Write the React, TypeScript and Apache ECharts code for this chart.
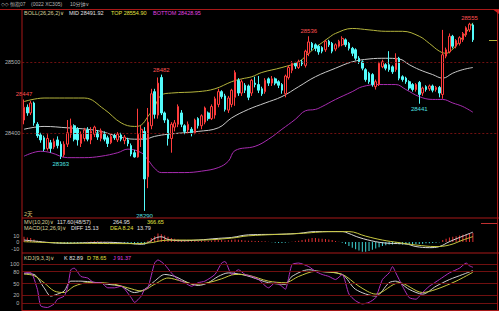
import React, { useEffect, useRef } from 'react';
import * as echarts from 'echarts';

// [open, close, low, high] per 10-minute bar
const CANDLES: number[][] = [
  [28418, 28436, 28412, 28447], [28436, 28428, 28424, 28440], [28428, 28442, 28425, 28445], [28442, 28414, 28410, 28444],
  [28412, 28396, 28393, 28415], [28397, 28390, 28386, 28400], [28393, 28377, 28374, 28396], [28378, 28392, 28375, 28398],
  [28386, 28378, 28372, 28390], [28380, 28388, 28377, 28392], [28390, 28382, 28378, 28395], [28384, 28367, 28363, 28388],
  [28369, 28384, 28366, 28388], [28384, 28400, 28380, 28418], [28398, 28410, 28393, 28420], [28410, 28391, 28388, 28412],
  [28405, 28390, 28382, 28408], [28385, 28398, 28380, 28402], [28392, 28404, 28388, 28407], [28404, 28391, 28388, 28408],
  [28390, 28402, 28384, 28408], [28398, 28408, 28394, 28410], [28400, 28394, 28390, 28404], [28392, 28403, 28388, 28406],
  [28398, 28391, 28388, 28402], [28393, 28385, 28380, 28396], [28386, 28395, 28384, 28398], [28396, 28393, 28390, 28399],
  [28390, 28398, 28387, 28401], [28397, 28391, 28388, 28400], [28389, 28394, 28384, 28397], [28390, 28385, 28381, 28393],
  [28382, 28370, 28367, 28385], [28372, 28366, 28365, 28376], [28366, 28398, 28365, 28434], [28392, 28405, 28380, 28410],
  [28402, 28335, 28290, 28408], [28338, 28415, 28322, 28435], [28410, 28455, 28405, 28462], [28458, 28426, 28420, 28462],
  [28425, 28470, 28420, 28478], [28478, 28428, 28425, 28482], [28428, 28418, 28414, 28430], [28418, 28392, 28382, 28420],
  [28392, 28412, 28372, 28415], [28408, 28414, 28402, 28418], [28412, 28437, 28408, 28440], [28428, 28412, 28408, 28432],
  [28410, 28402, 28398, 28412], [28404, 28412, 28400, 28416], [28405, 28400, 28395, 28408], [28400, 28418, 28398, 28420],
  [28420, 28410, 28406, 28422], [28410, 28424, 28405, 28426], [28415, 28435, 28412, 28437], [28428, 28420, 28417, 28430],
  [28420, 28437, 28418, 28440], [28425, 28448, 28420, 28451], [28440, 28458, 28436, 28462], [28458, 28451, 28448, 28460],
  [28452, 28433, 28430, 28455], [28432, 28449, 28428, 28452], [28440, 28460, 28436, 28462], [28450, 28485, 28438, 28488],
  [28474, 28456, 28452, 28477], [28456, 28472, 28452, 28475], [28467, 28460, 28456, 28470], [28466, 28450, 28446, 28468],
  [28456, 28474, 28452, 28476], [28470, 28468, 28464, 28479], [28468, 28460, 28456, 28480], [28462, 28455, 28452, 28465],
  [28458, 28474, 28455, 28477], [28476, 28470, 28466, 28478], [28470, 28476, 28466, 28480], [28476, 28470, 28467, 28478],
  [28472, 28467, 28463, 28474], [28468, 28460, 28455, 28470], [28455, 28480, 28450, 28482], [28478, 28492, 28475, 28495],
  [28488, 28498, 28484, 28501], [28498, 28494, 28490, 28500], [28492, 28500, 28490, 28503], [28500, 28497, 28494, 28503],
  [28495, 28515, 28492, 28517], [28512, 28528, 28508, 28536], [28526, 28520, 28516, 28528], [28524, 28519, 28515, 28526],
  [28522, 28514, 28510, 28524], [28520, 28515, 28512, 28522], [28517, 28529, 28514, 28531], [28529, 28524, 28521, 28531],
  [28526, 28515, 28512, 28528], [28518, 28524, 28515, 28526], [28522, 28529, 28520, 28531], [28524, 28533, 28522, 28536],
  [28531, 28524, 28521, 28533], [28526, 28519, 28516, 28528], [28519, 28512, 28508, 28521], [28517, 28505, 28502, 28519],
  [28505, 28500, 28497, 28508], [28500, 28491, 28488, 28502], [28489, 28475, 28472, 28491], [28484, 28472, 28469, 28486],
  [28482, 28468, 28465, 28484], [28465, 28472, 28461, 28475], [28468, 28498, 28466, 28500], [28493, 28500, 28491, 28503],
  [28496, 28491, 28488, 28498], [28496, 28489, 28486, 28515], [28493, 28486, 28483, 28495], [28489, 28505, 28486, 28512],
  [28505, 28477, 28474, 28507], [28479, 28475, 28472, 28481], [28477, 28472, 28469, 28479], [28472, 28463, 28460, 28474],
  [28468, 28461, 28458, 28470], [28461, 28468, 28458, 28470], [28471, 28454, 28441, 28473], [28456, 28463, 28452, 28465],
  [28465, 28461, 28458, 28467], [28462, 28466, 28459, 28468], [28466, 28460, 28457, 28468], [28461, 28464, 28458, 28466],
  [28464, 28456, 28450, 28466], [28454, 28510, 28448, 28545], [28508, 28517, 28505, 28520], [28514, 28536, 28512, 28540],
  [28536, 28522, 28519, 28538], [28522, 28530, 28519, 28532], [28526, 28534, 28523, 28536], [28531, 28540, 28528, 28542],
  [28538, 28548, 28535, 28550], [28545, 28553, 28542, 28555], [28552, 28531, 28528, 28554],
];

// BOLL bands read at sampled bars: [bar index, price]
const BOLL_TOP: number[][] = [
  [0, 28444], [6, 28449], [18, 28449], [24, 28433], [29, 28414], [33, 28409], [35, 28411], [37, 28423], [39, 28437],
  [41, 28453], [44, 28456], [52, 28458], [57, 28462], [62, 28472], [65, 28476], [68, 28479], [71, 28485], [77, 28492],
  [82, 28500], [85, 28512], [87, 28520], [89, 28527], [91, 28534], [93, 28540], [98, 28547], [103, 28545], [108, 28543],
  [113, 28543], [118, 28536], [121, 28526], [124, 28515], [126, 28512], [128, 28518], [131, 28535], [134, 28555],
];
const BOLL_MID: number[][] = [
  [0, 28405], [6, 28409], [13, 28407], [19, 28405], [23, 28402], [28, 28395], [33, 28391], [36, 28391], [39, 28395],
  [43, 28398], [52, 28402], [58, 28407], [62, 28421], [67, 28433], [72, 28442], [77, 28451], [82, 28465], [87, 28479],
  [93, 28491], [98, 28500], [103, 28504], [108, 28505], [112, 28504], [115, 28496], [118, 28489], [122, 28482],
  [125, 28477], [128, 28484], [131, 28489], [134, 28492],
];
const BOLL_BOTTOM: number[][] = [
  [0, 28367], [5, 28374], [8, 28372], [13, 28365], [18, 28365], [23, 28367], [28, 28372], [31, 28377], [35, 28372],
  [37, 28362], [39, 28350], [41, 28344], [48, 28344], [53, 28346], [58, 28351], [61, 28360], [63, 28375], [69, 28381],
  [73, 28391], [77, 28405], [81, 28419], [84, 28431], [87, 28433], [89, 28437], [93, 28447], [98, 28458], [101, 28465],
  [106, 28468], [111, 28468], [114, 28461], [118, 28451], [122, 28447], [125, 28447], [128, 28442], [131, 28437],
  [134, 28429],
];

// labelled highs / lows
const EXTREMES = [
  { bar: 0, price: 28447, kind: 'high' }, { bar: 11, price: 28363, kind: 'low' }, { bar: 36, price: 28290, kind: 'low' },
  { bar: 41, price: 28482, kind: 'high' }, { bar: 85, price: 28536, kind: 'high' }, { bar: 118, price: 28441, kind: 'low' },
  { bar: 133, price: 28555, kind: 'high' },
];

const MACD_HIST: number[] = [
  8, 7, 6, 4, 2, 1, 0.5,
  -1, -1.5, -2, -2, -2.5, -3, -3, -2.5, -2, -2, -1.5, -1,
  0.5, 0.8, 1, 1, 0.8, 0.5, 0.3, 0.2, -0.2, -0.3,
  -0.5, -1, -2, -3, -3.5, -2, -2, -4,
  2, 6, 9, 13, 12, 10, 8,
  6, 5, 4, 3, 2, 1.5, 1, 1.5, 1.5, 2, 2.5, 2, 2.5, 3, 3.5, 3, 2.5, 3, 3.5, 4, 3.5, 3, 2.5,
  2, 2, 1.5, 1.5, 1, 1, 0.5,
  -0.5, -1, -1.5, -1.5, -1, -0.5, 0.5, 1,
  2, 3, 4, 5, 6, 6, 5.5, 5, 4.5, 4, 3,
  1.5, 0.5, -1,
  -3, -6, -9, -11, -13, -15, -15, -14, -12, -10, -8,
  -6, -5, -4, -4, -3, -3.5, -4, -4, -3.5, -3, -3, -3, -2.5, -2, -2, -1.5, -1, -0.5,
  3, 5, 7, 8, 9, 10, 11, 12, 13, 13.79,
];
const MACD_DIF: number[][] = [
  [0, 3], [3, 1.5], [8, -1], [13, -2], [19, -1], [25, -0.5], [31, -2], [35, -3.5], [37, -1], [39, 5.6], [41, 8],
  [43, 4], [47, 2], [52, 3], [58, 5.6], [62, 7], [67, 11], [77, 12], [82, 13.3], [87, 16], [95, 16], [97, 13],
  [100, 7], [105, 0.5], [109, -2], [114, -3], [117, -7], [121, -8.7], [124, -7], [127, 0.5], [131, 9], [134, 15.13],
];
const MACD_DEA: number[][] = [
  [0, 0.5], [8, -1], [18, -2], [33, -2.5], [38, -1], [41, 2], [45, 3], [52, 3], [62, 6], [67, 9.5], [82, 13],
  [92, 16], [97, 16], [102, 9], [107, 3], [112, -1], [117, -4.6], [123, -7], [127, -4.6], [131, 3], [134, 8.24],
];

const KDJ_K: number[][] = [
  [0, 75], [3, 73], [6, 39], [8, 18], [10, 23], [12, 31], [14, 56], [17, 56], [21, 53], [25, 48], [29, 43], [33, 27],
  [36, 35], [39, 56], [42, 73], [45, 68], [49, 52], [52, 45], [55, 52], [58, 68], [61, 77], [65, 73], [68, 66],
  [73, 52], [78, 48], [80, 68], [85, 85], [88, 81], [95, 73], [99, 35], [105, 18], [109, 52], [111, 56], [115, 35],
  [119, 23], [123, 43], [127, 60], [131, 73], [134, 82.89],
];
const KDJ_D: number[][] = [
  [0, 74], [3, 70], [6, 52], [9, 31], [12, 27], [15, 43], [19, 52], [23, 52], [27, 48], [31, 39], [35, 31], [39, 48],
  [43, 64], [47, 56], [51, 48], [55, 52], [59, 62], [63, 73], [67, 71], [73, 56], [78, 52], [82, 68], [87, 81],
  [95, 73], [100, 43], [105, 23], [112, 52], [119, 27], [123, 35], [129, 56], [134, 78.65],
];
const KDJ_J: number[][] = [
  [0, 77], [2, 78], [4, 35], [5, -7], [7, -11], [9, -2], [10, 10], [12, 18], [13, 39], [14, 85], [15, 89], [17, 68],
  [19, 64], [21, 52], [23, 52], [25, 39], [27, 39], [29, 43], [32, 14], [33, 2], [35, 18], [36, 35], [37, 39],
  [39, 102], [40, 110], [42, 98], [44, 77], [46, 60], [48, 52], [50, 43], [52, 52], [54, 56], [57, 73], [59, 102],
  [60, 106], [62, 73], [64, 85], [66, 73], [68, 68], [70, 60], [73, 39], [75, 52], [77, 43], [78, 35], [80, 98],
  [82, 102], [85, 93], [87, 81], [89, 73], [91, 68], [93, 60], [95, 73], [97, 23], [99, 6], [101, -2], [103, 2],
  [105, 14], [107, 60], [109, 77], [110, 93], [111, 77], [113, 43], [115, 14], [117, 10], [119, 27], [121, 43],
  [124, 60], [127, 77], [130, 89], [132, 102], [133, 95], [134, 91.37],
];

const PRICE_TICKS = [28500, 28400];
const KDJ_TICKS = [100, 80, 50, 20, 0];
const PAD_BARS = 7;

const FONT = "'Liberation Sans','DejaVu Sans','Noto Sans CJK SC',sans-serif";
const RED = '#ff3c3c';
const CYAN = '#54fcfc';
const BORDER = '#a81818';
const GRIDLINE = '#701010';
const LEFT = 22.3;
const RIGHT = 1;

type T = { text: string; x: number; y: number; fill: string; size?: number };
const TEXTS: T[] = [
  { text: '◇◇ 恒指07', x: 1, y: 4, fill: '#b8b8b8', size: 5 },
  { text: '(0022 XC305)', x: 31, y: 4, fill: '#b8b8b8', size: 5 },
  { text: '10分钟∨', x: 70, y: 4, fill: '#b8b8b8', size: 5 },
  { text: 'BOLL(26,26,2)∨', x: 24, y: 13, fill: '#d8d09a' },
  { text: 'MID 28491.92', x: 69, y: 13, fill: '#e0e0e0' },
  { text: 'TOP 28554.90', x: 111, y: 13, fill: '#e0e040' },
  { text: 'BOTTOM 28428.95', x: 153, y: 13, fill: '#e040e0' },
  { text: '2天', x: 24, y: 214, fill: '#d8c070' },
  { text: 'MV(10,20)∨', x: 24, y: 222, fill: '#d8d09a' },
  { text: '117.60(48/57)', x: 57, y: 222, fill: '#e0e0e0' },
  { text: '264.95', x: 113, y: 222, fill: '#e0e0e0' },
  { text: '366.65', x: 147, y: 222, fill: '#e0e040' },
  { text: 'MACD(12,26,9)∨', x: 24, y: 227.5, fill: '#d8d09a' },
  { text: 'DIFF 15.13', x: 71, y: 227.5, fill: '#e0e0e0' },
  { text: 'DEA 8.24', x: 110, y: 227.5, fill: '#e0e040' },
  { text: '13.79', x: 137, y: 227.5, fill: '#e0e0e0' },
  { text: 'KDJ(9,3,3)∨', x: 24, y: 257.5, fill: '#d8d09a' },
  { text: 'K 82.89', x: 64, y: 257.5, fill: '#e0e0e0' },
  { text: 'D 78.65', x: 87, y: 257.5, fill: '#e0e040' },
  { text: 'J 91.37', x: 113, y: 257.5, fill: '#e040e0' },
];

function buildOption() {
  const n = CANDLES.length + PAD_BARS;
  const cats = Array.from({ length: n }, (_, i) => String(i + 1));
  const xAxis = [0, 1, 2].map((g) => ({
    type: 'category', gridIndex: g, data: cats, show: false, boundaryGap: true,
  }));
  const lineS = (name: string, data: number[][], color: string, xi: number, smooth = 0.4) => ({
    name, type: 'line', xAxisIndex: xi, yAxisIndex: xi, data, smooth, symbol: 'none', showSymbol: false,
    lineStyle: { color, width: 1 }, silent: true, z: 3,
  });
  const axisLbl = { color: '#b8b8b8', fontSize: 5.5, fontFamily: FONT };
  const graphics: any[] = [
    ...[[0, 9.5, 499, 9.5], [22, 9.5, 22, 311], [22, 218, 499, 218], [22, 253, 499, 253], [497.5, 9.5, 497.5, 311], [22, 310.5, 499, 310.5]].map(
      ([x1, y1, x2, y2]) => ({ type: 'line', shape: { x1, y1, x2, y2 }, style: { stroke: BORDER, lineWidth: 1 }, silent: true, z: 50 })
    ),
    { type: 'polygon', shape: { points: [[493, 9.5], [499, 9.5], [499, 14]] }, style: { fill: '#d02020' }, silent: true, z: 50 },
    { type: 'line', shape: { x1: 489, y1: 40.5, x2: 497, y2: 40.5 }, style: { stroke: '#b4b43c', lineWidth: 1 }, silent: true, z: 50 },
    { type: 'line', shape: { x1: 481, y1: 223.5, x2: 497, y2: 223.5 }, style: { stroke: '#c03030', lineWidth: 1 }, silent: true, z: 50 },
    ...TEXTS.map((t) => ({
      type: 'text', x: t.x, y: t.y, silent: true, z: 60,
      style: { text: t.text, fill: t.fill, fontSize: t.size ?? 5.5, fontFamily: FONT, verticalAlign: 'middle', align: 'left' },
    })),
  ];
  return {
    animation: false,
    backgroundColor: '#000',
    textStyle: { fontFamily: FONT },
    grid: [
      { left: LEFT, right: RIGHT, top: 10, height: 208 },
      { left: LEFT, right: RIGHT, top: 229, height: 26 },
      { left: LEFT, right: RIGHT, top: 256, height: 56 },
    ],
    xAxis,
    yAxis: [
      { type: 'value', gridIndex: 0, min: 28280, max: 28573, show: false, splitLine: { show: false } },
      {
        type: 'value', gridIndex: 1, min: -20, max: 20, interval: 10,
        axisLine: { show: false }, axisTick: { show: false }, splitLine: { show: false },
        axisLabel: { ...axisLbl, margin: 3, formatter: (v: number) => (Math.abs(v) >= 20 ? '' : String(v)) },
      },
      { type: 'value', gridIndex: 2, min: -20, max: 120, show: false, splitLine: { show: false } },
    ],
    series: [
      {
        type: 'candlestick', xAxisIndex: 0, yAxisIndex: 0, data: CANDLES, barWidth: '64%', z: 4,
        itemStyle: { color: '#000', color0: CYAN, borderColor: RED, borderColor0: CYAN, borderWidth: 1 },
        markLine: {
          silent: true, symbol: ['none', 'none'],
          lineStyle: { color: GRIDLINE, type: [2, 2], width: 1 },
          label: { position: 'start', distance: 2, formatter: '{c}', ...axisLbl },
          data: PRICE_TICKS.map((v) => ({ yAxis: v })),
        },
        markPoint: {
          silent: true, symbol: 'circle', symbolSize: 0.1,
          data: EXTREMES.map((e) => ({
            coord: [e.bar, e.price], value: e.price,
            label: {
              show: true, position: e.kind === 'high' ? 'top' : 'bottom', distance: 2,
              color: e.kind === 'high' ? '#ff5050' : '#4fe0e0', fontSize: 6, fontFamily: FONT,
              formatter: String(e.price),
            },
          })),
        },
      },
      lineS('TOP', BOLL_TOP, '#b4b43c', 0),
      lineS('MID', BOLL_MID, '#c8c8c8', 0),
      lineS('BOTTOM', BOLL_BOTTOM, '#a82cb0', 0),
      {
        type: 'bar', xAxisIndex: 1, yAxisIndex: 1, barWidth: 1, silent: true,
        data: MACD_HIST.map((v) => ({ value: v, itemStyle: { color: v >= 0 ? '#e03030' : '#40d8d8' } })),
      },
      lineS('DIF', MACD_DIF, '#d8d8d8', 1),
      lineS('DEA', MACD_DEA, '#c8c840', 1),
      {
        ...lineS('K', KDJ_K, '#d0d0d0', 2, 0.3),
        markLine: {
          silent: true, symbol: ['none', 'none'],
          lineStyle: { color: GRIDLINE, type: 'solid', width: 1 },
          label: { position: 'start', distance: 3, formatter: '{c}', ...axisLbl },
          data: KDJ_TICKS.map((v) => ({ yAxis: v })),
        },
      },
      lineS('D', KDJ_D, '#c8c840', 2, 0.3),
      lineS('J', KDJ_J, '#b030c0', 2, 0.2),
    ],
    graphic: graphics,
  };
}

export default function App() {
  const ref = useRef<HTMLDivElement>(null);
  useEffect(() => {
    if (!ref.current) return;
    const chart = echarts.init(ref.current, null, { renderer: 'svg' });
    chart.setOption(buildOption() as any);
    return () => chart.dispose();
  }, []);
  return (
    <div
      ref={ref}
      style={{ position: 'fixed', left: 0, top: 0, width: 499, height: 311, background: '#000' }}
    />
  );
}
